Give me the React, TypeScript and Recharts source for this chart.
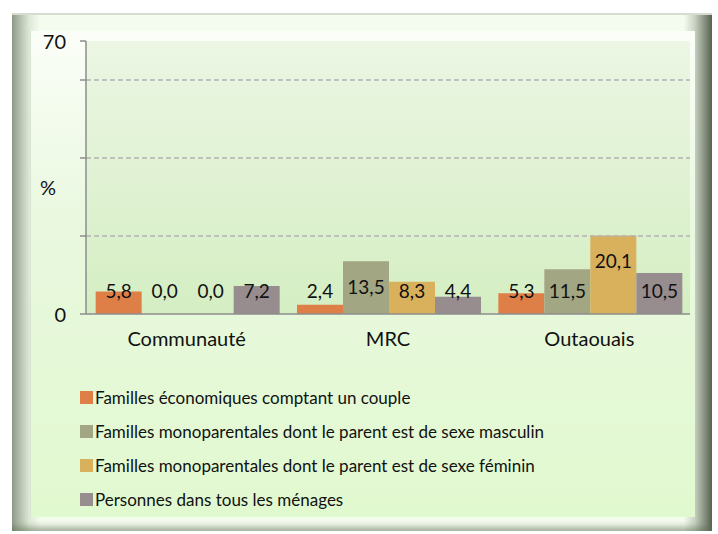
import { Bar, BarChart, LabelList, Label, ReferenceArea, ReferenceLine, XAxis, YAxis } from "recharts"

const categories = ["Communauté", "MRC", "Outaouais"]
const couple = [5.8, 2.4, 5.3]
const monoMasc = [0.0, 13.5, 11.5]
const monoFem = [0.0, 8.3, 20.1]
const personnes = [7.2, 4.4, 10.5]
const yTicks = [0, 20, 40, 60, 70]

const series = [
  { key: "couple", name: "Familles économiques comptant un couple", color: "#DF7F48", values: couple },
  { key: "monoMasc", name: "Familles monoparentales dont le parent est de sexe masculin", color: "#A2A682", values: monoMasc },
  { key: "monoFem", name: "Familles monoparentales dont le parent est de sexe féminin", color: "#D9B05B", values: monoFem },
  { key: "personnes", name: "Personnes dans tous les ménages", color: "#978C8E", values: personnes },
]

const data = categories.map((cat, i) => {
  const row: Record<string, string | number> = { cat }
  series.forEach((s) => {
    row[s.key] = s.values[i]
  })
  return row
})

const FONT = "Lato, 'Noto Sans', sans-serif"

const ValueLabel = (props: any) => {
  const { x, y, width, height, value } = props
  const h = Number(height) || 0
  const base = y + h
  const cy = Math.min(y + 25, base - 24)
  return (
    <text
      x={x + width / 2}
      y={cy}
      textAnchor="middle"
      dominantBaseline="central"
      fontSize={19}
      fontFamily={FONT}
      fill="#111"
    >
      {Number(value).toFixed(1).replace(".", ",")}
    </text>
  )
}

const YTick = (props: any) => {
  const { x, y, payload } = props
  if (payload.value !== 0 && payload.value !== 70) return null
  return (
    <text x={x} y={y} textAnchor="end" dominantBaseline="central" fontSize={20} fontFamily={FONT} fill="#111">
      {payload.value}
    </text>
  )
}

export default function App() {
  return (
    <div style={{ position: "absolute", left: 0, top: 0, width: 718, height: 534, background: "#fff", overflow: "hidden" }}>
      <div
        style={{
          position: "absolute",
          left: 12,
          top: 13,
          width: 700,
          height: 518,
          background: "linear-gradient(90deg, #8f9c88 0%, #dfe9d8 2.5%, #f4fbef 4%, #f4fbef 96%, #c9d3c3 97.5%, #59614f 100%)",
          boxShadow: "inset 0 -8px 6px -4px rgba(90,110,80,0.55), inset 0 2px 0 #d7dcd3",
        }}
      />
      <div
        style={{
          position: "absolute",
          left: 30,
          top: 31,
          width: 664,
          height: 486,
          background: "linear-gradient(180deg, #fbfef8 0%, #e9f8df 40%, #e1f9cf 100%)",
          borderLeft: "1px solid #d8e3d0",
          borderRight: "1px solid #c2ccbc",
        }}
      />
      <div style={{ position: "absolute", left: 0, top: 0 }}>
        <BarChart
          width={718}
          height={534}
          data={data}
          margin={{ top: 41, right: 28, left: 0, bottom: 180 }}
          barCategoryGap="4.8%"
          barGap={0}
        >
          <defs>
            <linearGradient id="plotBg" x1="0" y1="0" x2="0" y2="1">
              <stop offset="0%" stopColor="#ecf6e4" />
              <stop offset="100%" stopColor="#d4eec2" />
            </linearGradient>
          </defs>
          <ReferenceArea y1={0} y2={70} fill="url(#plotBg)" fillOpacity={1} stroke="none" ifOverflow="visible" />
          {[20, 40, 60].map((v) => (
            <ReferenceLine key={v} y={v} stroke="#b3b3b3" strokeDasharray="5 3" strokeWidth={1.3} />
          ))}
          <XAxis
            xAxisId="bounds"
            type="number"
            domain={[0, 3]}
            ticks={[0, 1, 2, 3]}
            height={0}
            tick={false}
            axisLine={false}
            tickLine={{ stroke: "#8c8c8c", strokeWidth: 1.5 }}
            tickSize={6}
          />
          <XAxis
            dataKey="cat"
            height={40}
            tickLine={false}
            tickSize={0}
            tickMargin={18}
            axisLine={{ stroke: "#8c8c8c", strokeWidth: 1.5 }}
            tick={{ fontSize: 20, fontFamily: FONT, fill: "#111" }}
          />
          <YAxis
            width={86}
            domain={[0, 70]}
            ticks={yTicks}
            interval={0}
            axisLine={{ stroke: "#8c8c8c", strokeWidth: 1.5 }}
            tickLine={{ stroke: "#8c8c8c", strokeWidth: 1.5 }}
            tickSize={6}
            tickMargin={14}
            tick={<YTick />}
          >
            <Label
              value="%"
              position="insideLeft"
              offset={40}
              dy={10}
              style={{ fontSize: 20, fontFamily: FONT, fill: "#111" }}
            />
          </YAxis>
          {series.map((s) => (
            <Bar
              key={s.key}
              dataKey={s.key}
              name={s.name}
              fill={s.color}
              minPointSize={(v: number) => (v === 0 ? 0.01 : 0)}
              isAnimationActive={false}
            >
              <LabelList dataKey={s.key} content={<ValueLabel />} />
            </Bar>
          ))}
        </BarChart>
      </div>
      <div style={{ position: "absolute", left: 80, top: 380, fontFamily: FONT, fontSize: 17, color: "#111" }}>
        {series.map((s) => (
          <div key={s.key} style={{ display: "flex", alignItems: "center", height: 34 }}>
            <span style={{ display: "inline-block", width: 13, height: 13, background: s.color, marginRight: 2 }} />
            <span>{s.name}</span>
          </div>
        ))}
      </div>
    </div>
  )
}
